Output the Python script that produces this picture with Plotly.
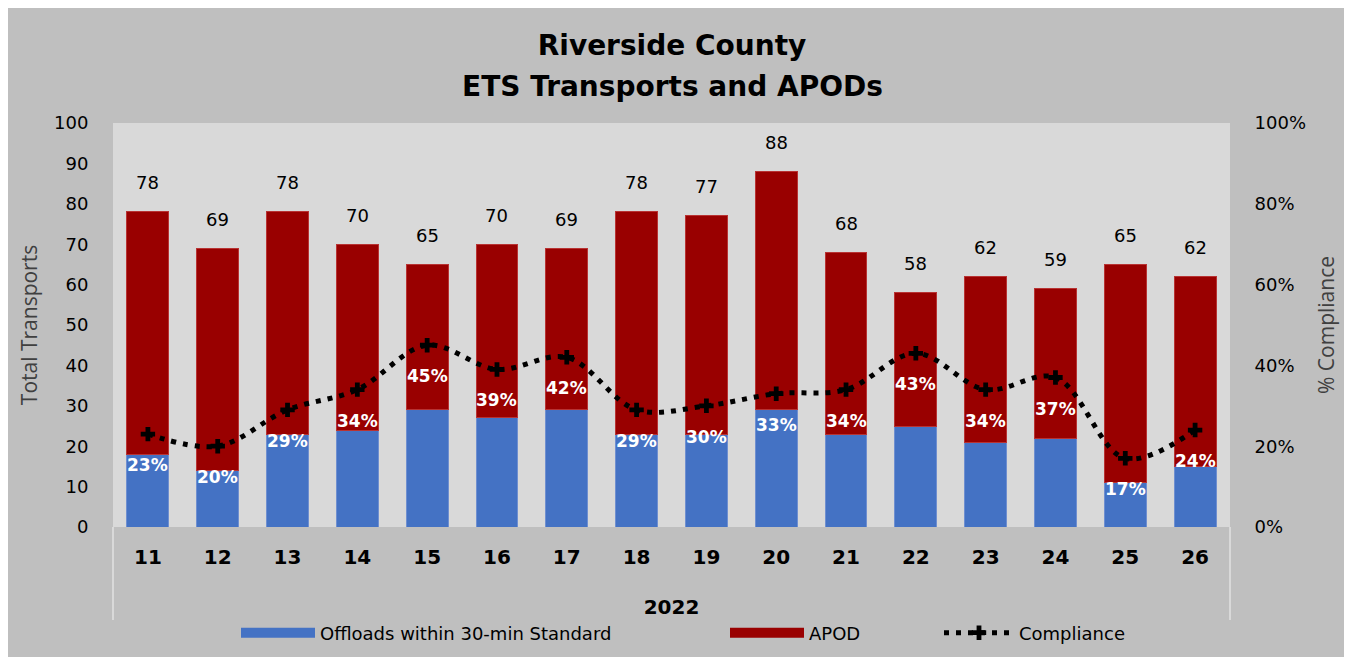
import plotly.graph_objects as go
from plotly.subplots import make_subplots

weeks = ["11", "12", "13", "14", "15", "16", "17", "18", "19", "20", "21", "22", "23", "24", "25", "26"]
offloads = [18, 14, 23, 24, 29, 27, 29, 23, 23, 29, 23, 25, 21, 22, 11, 15]
apod = [60, 55, 55, 46, 36, 43, 40, 55, 54, 59, 45, 33, 41, 37, 54, 47]
totals = [78, 69, 78, 70, 65, 70, 69, 78, 77, 88, 68, 58, 62, 59, 65, 62]
compliance = [0.23, 0.20, 0.29, 0.34, 0.45, 0.39, 0.42, 0.29, 0.30, 0.33, 0.34, 0.43, 0.34, 0.37, 0.17, 0.24]
compliance_labels = ["23%", "20%", "29%", "34%", "45%", "39%", "42%", "29%", "30%", "33%", "34%", "43%", "34%", "37%", "17%", "24%"]

BLUE = "#4472C4"
RED = "#990000"
OUTER = "#BFBFBF"
INNER = "#D9D9D9"
FONT = "DejaVu Sans"
TFONT = "Open Sans"

# page body has an 8px margin, so the figure is drawn 8px in from the top-left
OFF = 8
W, H = 1352 - OFF, 657 - OFF
L, R, T, B = 113 - OFF, 122, 123 - OFF, 130
pw, ph = W - L - R, H - T - B

def px_x(x):  # page pixel -> paper
    return (x - OFF - L) / pw

def px_y(y):
    return (H - B - (y - OFF)) / ph

fig = make_subplots(specs=[[{"secondary_y": True}]])

fig.add_trace(go.Bar(
    x=weeks, y=offloads, name="Offloads within 30-min Standard", showlegend=False,
    marker=dict(color=BLUE, line=dict(color="#6F8FD0", width=1)),
), secondary_y=False)
fig.add_trace(go.Bar(
    x=weeks, y=apod, name="APOD", showlegend=False,
    marker=dict(color=RED, line=dict(color="#B83333", width=1)),
), secondary_y=False)

# legend entries drawn as wide colour swatches
fig.add_trace(go.Scatter(x=[None], y=[None], mode="lines", name="Offloads within 30-min Standard",
                         legend="legend", line=dict(color=BLUE, width=12)), secondary_y=False)
fig.add_trace(go.Scatter(x=[None], y=[None], mode="lines", name="APOD",
                         legend="legend2", line=dict(color=RED, width=12)), secondary_y=False)

fig.add_trace(go.Scatter(
    x=weeks, y=compliance, name="Compliance", legend="legend3",
    mode="lines+markers",
    line=dict(color="black", width=5, dash="5px,7px", shape="spline", smoothing=1.0),
    marker=dict(symbol="cross", size=12, color="black"),
    cliponaxis=False,
), secondary_y=True)

for i, t in enumerate(totals):
    fig.add_annotation(x=i, y=t, text=str(t), showarrow=False, yanchor="middle",
                       yshift=29, font=dict(family=FONT, size=18, color="black"),
                       xref="x", yref="y")

for i, (c, lab) in enumerate(zip(compliance, compliance_labels)):
    fig.add_annotation(x=i, y=c, text="<b>" + lab + "</b>", showarrow=False, yanchor="middle",
                       yshift=-31, font=dict(family=FONT, size=17, color="white"),
                       xref="x", yref="y2")

# second title line
fig.add_annotation(x=px_x(672), y=px_y(87), xref="paper", yref="paper", showarrow=False,
                   text="<b>ETS Transports and APODs</b>", xanchor="center", yanchor="middle",
                   font=dict(family=FONT, size=28, color="black"))

shapes = [
    dict(type="rect", xref="paper", yref="paper", x0=px_x(1349), x1=px_x(1360), y0=px_y(700), y1=px_y(0),
         fillcolor="white", line=dict(width=0), layer="below"),
    dict(type="line", xref="paper", yref="paper", x0=0, x1=0, y0=px_y(620), y1=0,
         line=dict(color=INNER, width=2), layer="below"),
    dict(type="line", xref="paper", yref="paper", x0=1, x1=1, y0=px_y(620), y1=0,
         line=dict(color=INNER, width=2), layer="below"),
]

leg_common = dict(orientation="h", yanchor="middle", y=px_y(633), xanchor="left",
                  font=dict(family=FONT, size=18, color="black"), bgcolor="rgba(0,0,0,0)")

fig.update_layout(
    width=W, height=H,
    margin=dict(l=L, r=R, t=T, b=B, autoexpand=False),
    paper_bgcolor=OUTER,
    plot_bgcolor=INNER,
    barmode="stack",
    bargap=0.4,
    shapes=shapes,
    font=dict(family=FONT, color="black"),
    title=dict(text="<b>Riverside County</b>", x=(672 - OFF) / W, xanchor="center",
               xref="container", y=1 - (45 - OFF) / H, yanchor="middle",
               font=dict(family=FONT, size=28, color="black")),
    legend=dict(x=px_x(236), itemwidth=74, **leg_common),
    legend2=dict(x=px_x(725), itemwidth=74, **leg_common),
    legend3=dict(x=px_x(939), itemwidth=70, **leg_common),
    showlegend=True,
)

fig.update_xaxes(
    type="category", domain=[0, 1], range=[-0.5, 15.5],
    automargin=False,
    tickfont=dict(family=FONT, size=20, color="black", weight="bold"),
    showgrid=False, zeroline=False, showline=False,
    ticks="outside", ticklen=12, tickcolor="rgba(0,0,0,0)",
    title=dict(text="<b>2022</b>", font=dict(family=FONT, size=20, color="black"), standoff=31),
)
fig.update_yaxes(
    range=[0, 100], dtick=10, showgrid=False, zeroline=False, showline=False, automargin=False,
    ticks="outside", ticklen=20, tickcolor="rgba(0,0,0,0)",
    tickfont=dict(family=FONT, size=18, color="black"),
    title=dict(text="Total Transports", font=dict(family=TFONT, size=21, color="#404040"), standoff=10),
    secondary_y=False,
)
fig.update_yaxes(
    range=[0, 1], dtick=0.2, tickformat=".0%", showgrid=False, zeroline=False, showline=False, automargin=False,
    ticks="outside", ticklen=20, tickcolor="rgba(0,0,0,0)",
    tickfont=dict(family=FONT, size=18, color="black"),
    title=dict(text="% Compliance", font=dict(family=TFONT, size=21, color="#404040"), standoff=14),
    secondary_y=True,
)

fig.write_html("out.html")
